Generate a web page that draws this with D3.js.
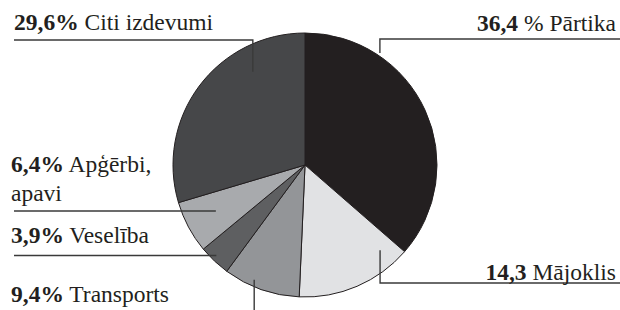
<!DOCTYPE html>
<html>
<head>
<meta charset="utf-8">
<script src="https://cdn.jsdelivr.net/npm/d3@7"></script>
<style>
  body { margin: 0; background: #fff; }
  svg { display: block; }
  text { font-family: 'Liberation Serif', 'Times New Roman', serif; }
</style>
</head>
<body>
<svg id="svg"></svg>
<script>
// data
const categories = ['Pārtika', 'Mājoklis', 'Transports', 'Veselība', 'Apģērbi, apavi', 'Citi izdevumi'];
const values = [36.4, 14.3, 9.4, 3.9, 6.4, 29.6];
const pctSuffix = ['', '', '%', '%', '%', '%'];
const nameText = [[' % Pārtika'], [' Mājoklis'], [' Transports'], [' Veselība'], [' Apģērbi,', 'apavi'], [' Citi izdevumi']];
const colors = ['#231f20', '#e1e2e4', '#939598', '#5e5f61', '#a8aaad', '#464749'];

const width = 620, height = 310;
const cx = 305, cy = 165, radius = 132;

// leader anchor (angle deg, fraction of radius), elbow target, label position
const leaders = [
  {a: 33.8, r: 1.02, path: 'up-right', y: 39, lx: 616, ly: 31, anchor: 'end'},
  {a: 138.6, r: 0.86, path: 'down-right', y: 283, lx: 616, ly: 280, anchor: 'end'},
  {a: 203.9, r: 0.95, path: 'down', y: 310, lx: 11, ly: 302, anchor: 'start'},
  {a: 224.4, r: 0.96, path: 'left', x: 14, lx: 11, ly: 243, anchor: 'start'},
  {a: 242.7, r: 0.76, path: 'left', x: 14, lx: 11, ly: 172, anchor: 'start'},
  {a: 330.8, r: 0.81, path: 'up-left', y: 40, x: 14, lx: 14, ly: 30, anchor: 'start'}
];

const svg = d3.select('#svg').attr('width', width).attr('height', height);
const g = svg.append('g').attr('transform', `translate(${cx},${cy})`);

const pie = d3.pie().sort(null).value(d => d);
const arc = d3.arc().innerRadius(0).outerRadius(radius);
const arcs = pie(values);

g.selectAll('path.slice')
  .data(arcs)
  .enter()
  .append('path')
  .attr('class', 'slice')
  .attr('d', arc)
  .attr('fill', (d, i) => colors[i])
  .attr('stroke', '#231f20')
  .attr('stroke-width', 1);

// leader lines
const line = d3.line();
leaders.forEach((L, i) => {
  const p = d3.pointRadial(L.a * Math.PI / 180, L.r * radius);
  const px = p[0] + cx, py = p[1] + cy;
  let pts;
  if (L.path === 'up-right' || L.path === 'down-right') pts = [[px, py], [px, L.y], [width, L.y]];
  else if (L.path === 'down') pts = [[px, py], [px, L.y]];
  else if (L.path === 'left') pts = [[px, py], [L.x, py]];
  else pts = [[px, py], [px, L.y], [L.x, L.y]];
  svg.append('path')
    .attr('d', line(pts))
    .attr('fill', 'none')
    .attr('stroke', '#3a3a3a')
    .attr('stroke-width', 1.4);
});

// labels
const fmt = v => d3.format('.1f')(v).replace('.', ',');
leaders.forEach((L, i) => {
  const t = svg.append('text')
    .attr('x', L.lx)
    .attr('y', L.ly)
    .attr('text-anchor', L.anchor)
    .attr('font-size', 23.5)
    .attr('fill', '#231f20');
  t.append('tspan').attr('font-weight', 'bold').text(fmt(values[i]) + pctSuffix[i]);
  t.append('tspan').text(nameText[i][0]);
  if (nameText[i].length > 1) {
    t.append('tspan').attr('x', L.lx).attr('dy', 29).text(nameText[i][1]);
  }
});
</script>
</body>
</html>
